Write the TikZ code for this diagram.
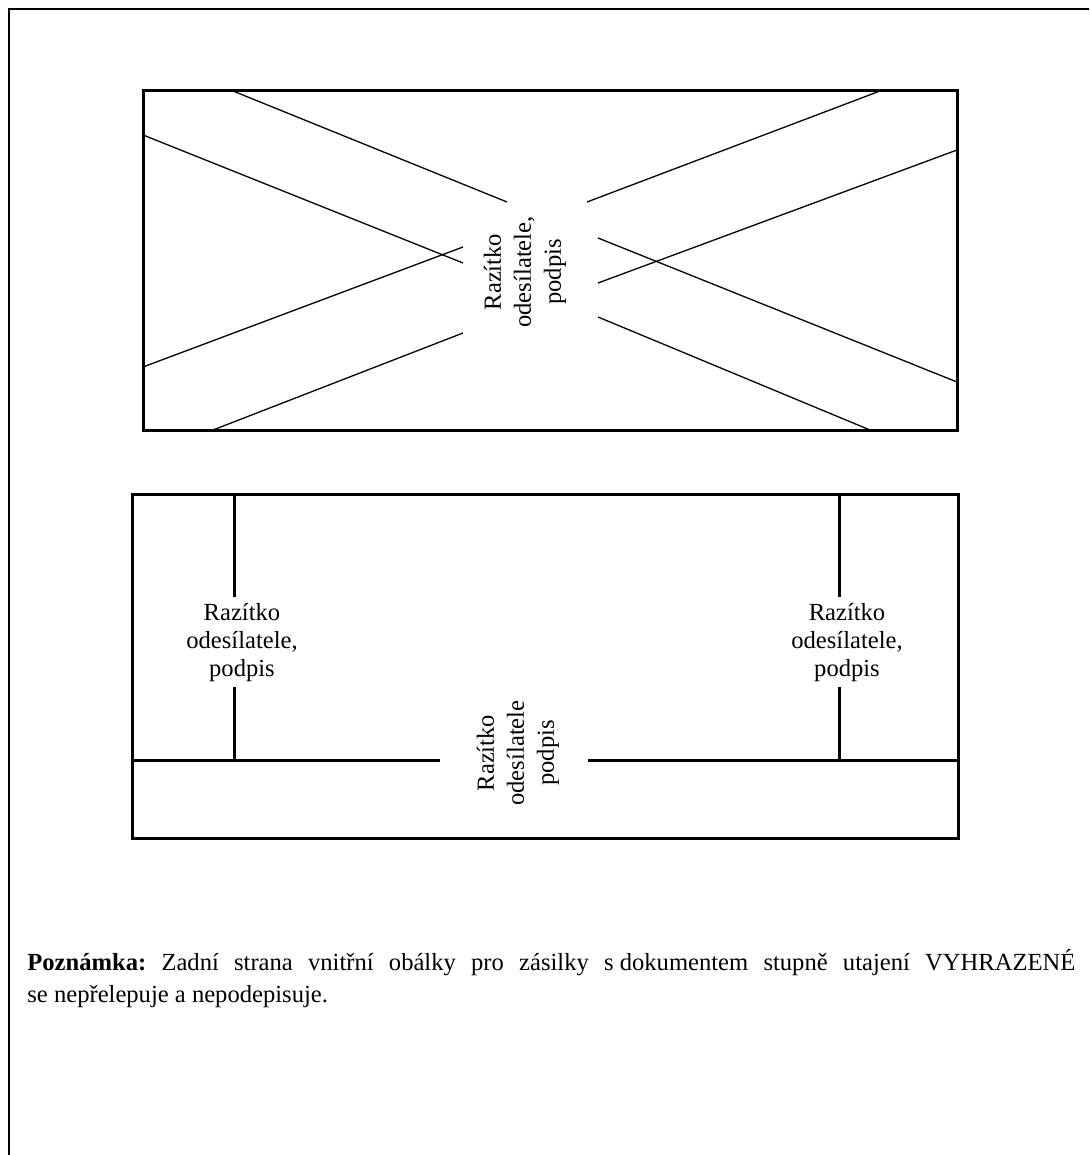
\documentclass[tikz,border=0pt]{standalone}
\usepackage{fontspec}
\setmainfont{Liberation Serif}
\frenchspacing
\begin{document}
\begin{tikzpicture}[x=0.5pt,y=-0.5pt,
 frame/.style={draw,line width=1pt},
 env/.style={draw,line width=1.5pt},
 cross/.style={draw,line width=0.65pt},
 stamp/.style={align=center,inner sep=0pt,font=\fontsize{12.3}{14}\selectfont},
 vstamp/.style={stamp,rotate=90,font=\fontsize{12.3}{15}\selectfont},
 note/.style={anchor=base west,inner sep=0pt,text width=524pt,align=justify,font=\fontsize{12.3}{16}\selectfont}]
\clip (0,0) rectangle (1089,1155);
\draw[frame] (8.5,9.5) rectangle (1100,1170);
% top envelope
\draw[env] (143,91) rectangle (957,430);
\foreach \xa/\ya/\xb/\yb in {233/91/507/202,143/135/463/263,143/367/463/247,213/430/463/333,
 587/202/880/91,598/283/957/150,598/238/957/382,598/317/870/430}
 \draw[cross] (\xa,\ya) -- (\xb,\yb);
\node[vstamp] (topstamp) at (525,272) {Razítko\\odesílatele,\\podpis};
% bottom envelope
\draw[env] (132,494) rectangle (958,838);
\draw[env] (132,760) -- (440,760) (588,760) -- (958,760);
\foreach \x in {234,839}
 \draw[env] (\x,494) -- (\x,597) (\x,687) -- (\x,760);
\node[stamp] (leftstamp) at (242,643) {Razítko\\odesílatele,\\podpis};
\node[stamp] (rightstamp) at (847,643) {Razítko\\odesílatele,\\podpis};
\node[vstamp] (midstamp) at (518,753) {Razítko\\odesílatele\\podpis};
% note
\node[note] (remark) at (27,970) {\textbf{Poznámka:} Zadní strana vnitřní obálky pro zásilky \mbox{s dokumentem} stupně utajení VYHRAZENÉ\linebreak se nepřelepuje a nepodepisuje.};
\end{tikzpicture}
\end{document}
